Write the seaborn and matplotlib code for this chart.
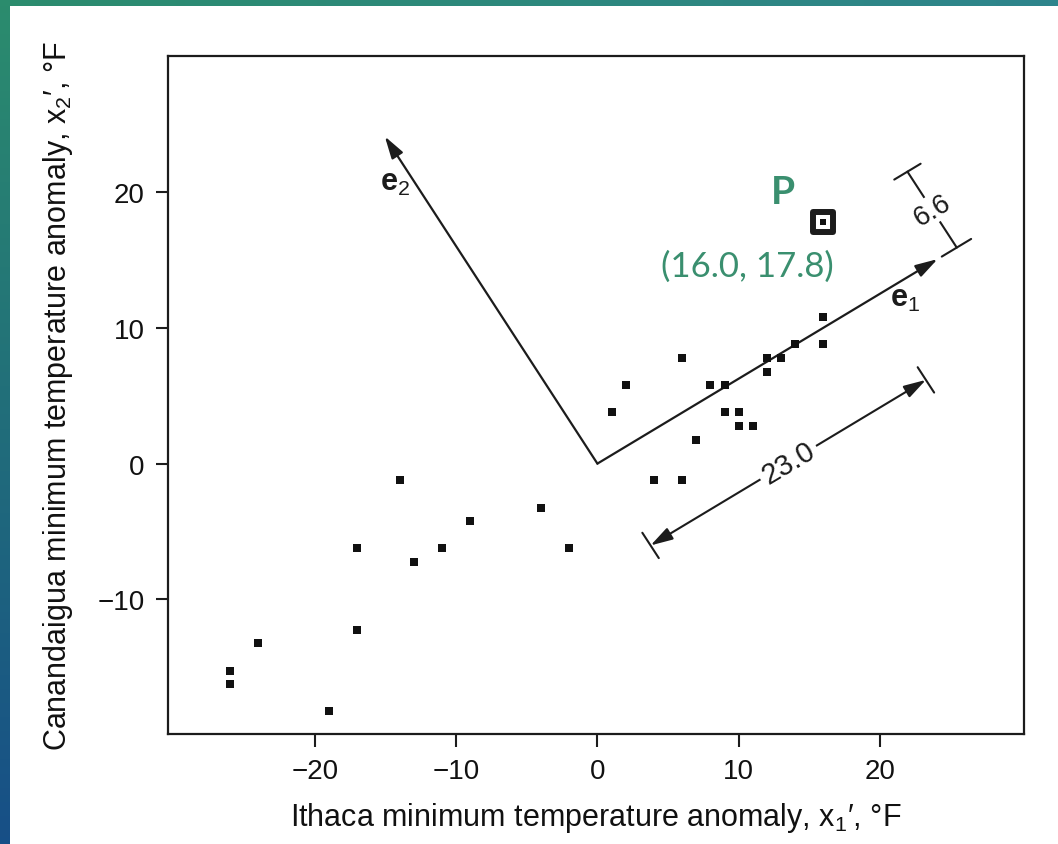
import numpy as np
import pandas as pd
import matplotlib
matplotlib.use("Agg")
import matplotlib.pyplot as plt
import seaborn as sns
from matplotlib.patches import Rectangle

# January 1987 daily minimum temperature anomalies (deg F)
ithaca_anom = [6, 12, 9, -14, -9, 1, 8, 9, 10, 14, 16, 12, 16, 2, 16, 11,
               -13, -11, 13, 4, 6, -4, 7, -19, -26, -26, -24, -17, -17, -2, 10]
canandaigua_anom = [7.77, 7.77, 5.77, -1.23, -4.23, 3.77, 5.77, 3.77, 3.77,
                    8.77, 8.77, 6.77, 10.77, 5.77, 17.77, 2.77, -7.23, -6.23,
                    7.77, -1.23, -1.23, -3.23, 1.77, -18.23, -16.23, -15.23,
                    -13.23, -12.23, -6.23, -6.23, 2.77]

# leading eigenvectors of the anomaly covariance matrix
e1 = [0.848, 0.530]
e2 = [-0.530, 0.848]

# day highlighted as point P
p_index = 14

x_ticks = [-20, -10, 0, 10, 20]
y_ticks = [-10, 0, 10, 20]
x_label = "Ithaca minimum temperature anomaly, x$_1$\u2032, \u00b0F"
y_label = "Canandaigua minimum temperature anomaly, x$_2$\u2032, \u00b0F"

sns.set_style("ticks")
plt.rcParams["font.family"] = ["Liberation Sans", "DejaVu Sans"]
plt.rcParams["mathtext.fontset"] = "custom"
plt.rcParams["mathtext.rm"] = "Liberation Sans"
plt.rcParams["mathtext.it"] = "Liberation Sans:italic"
plt.rcParams["mathtext.bf"] = "Liberation Sans:bold"
plt.rcParams["mathtext.default"] = "regular"

W, H = 1058, 845
fig = plt.figure(figsize=(W / 100, H / 100), dpi=100)

# slide backdrop: teal-to-blue gradient with a white panel
bg = fig.add_axes([0, 0, 1, 1], zorder=-5)
yy, xx = np.mgrid[0:1:120j, 0:1:120j]
TL = np.array([0.17, 0.55, 0.43])
TR = np.array([0.18, 0.52, 0.55])
BL = np.array([0.09, 0.31, 0.53])
BR = np.array([0.10, 0.34, 0.57])
img = (TL * ((1 - xx) * (1 - yy))[..., None] + TR * (xx * (1 - yy))[..., None]
       + BL * ((1 - xx) * yy)[..., None] + BR * (xx * yy)[..., None])
bg.imshow(img, extent=[0, 1, 0, 1], aspect="auto", origin="upper")
bg.add_patch(Rectangle((10 / W, 0), 1, 1 - 7 / H, transform=bg.transAxes,
                       facecolor="white", edgecolor="none"))
bg.set_xlim(0, 1)
bg.set_ylim(0, 1)
bg.axis("off")

ax = fig.add_axes([168 / W, 1 - 735 / H, (1024 - 168) / W, (735 - 57) / H])
ax.set_xlim(-30.4, 30.2)
ax.set_ylim(-19.9, 30.0)

ink = "#1c1c1c"
green = "#3a8f6f"

df = pd.DataFrame({"ithaca": ithaca_anom, "canandaigua": canandaigua_anom})
sns.scatterplot(data=df, x="ithaca", y="canandaigua", marker="s", s=30,
                color="#111111", linewidth=0, ax=ax, legend=False, zorder=3)

e1v = np.array(e1)
e2v = np.array(e2)


def frame(u1, u2):
    """Convert coordinates along (e1, e2) to data coordinates."""
    p = u1 * e1v + u2 * e2v
    return float(p[0]), float(p[1])


px, py = ithaca_anom[p_index], canandaigua_anom[p_index]
u1_p = px * e1v[0] + py * e1v[1]
u2_p = px * e2v[0] + py * e2v[1]

head = "-|>,head_length=0.75,head_width=0.22"
arr_len = 28.4

# eigenvector axes
for vec in ((arr_len, 0), (0, arr_len)):
    ax.annotate("", xy=frame(*vec), xytext=(0, 0),
                arrowprops=dict(arrowstyle=head, lw=1.6, color=ink,
                                mutation_scale=18, shrinkA=0, shrinkB=0),
                zorder=2)

# screen angle of e1 for rotated labels
fig.canvas.draw()
o = ax.transData.transform((0, 0))
t = ax.transData.transform(frame(1, 0))
ang = np.degrees(np.arctan2(t[1] - o[1], t[0] - o[0]))

# dimension along e1 (projection of P onto e1)
off = -7.1
ax.annotate("", xy=frame(u1_p, off), xytext=frame(0, off),
            arrowprops=dict(arrowstyle="<|-|>,head_length=0.75,head_width=0.22",
                            lw=1.5, color=ink, mutation_scale=18,
                            shrinkA=0, shrinkB=0), zorder=2)
for u in (0, u1_p):
    a, b = frame(u, off - 1.1), frame(u, off + 1.1)
    ax.plot([a[0], b[0]], [a[1], b[1]], color=ink, lw=1.5, zorder=2)
mx, my = frame(u1_p / 2, off)
ax.text(mx, my, f"{u1_p:.1f}", rotation=ang, rotation_mode="anchor",
        ha="center", va="center", fontsize=21, color=ink, zorder=4,
        bbox=dict(facecolor="white", edgecolor="none", pad=3))

# dimension along e2 (projection of P onto e2)
ud = 30.0
a, b = frame(ud, 0), frame(ud, u2_p)
ax.plot([a[0], b[0]], [a[1], b[1]], color=ink, lw=1.5, zorder=2)
for u2v, lo, hi in ((0, 28.75, 31.2), (u2_p, 28.9, 31.1)):
    a, b = frame(lo, u2v), frame(hi, u2v)
    ax.plot([a[0], b[0]], [a[1], b[1]], color=ink, lw=1.5, zorder=2)
mx, my = frame(ud, u2_p / 2)
ax.text(mx, my, f"{u2_p:.1f}", rotation=ang, rotation_mode="anchor",
        ha="center", va="center", fontsize=20, color=ink, zorder=4,
        bbox=dict(facecolor="white", edgecolor="none", pad=0.8))

# vector labels
ax.text(21.8, 12.2, r"$\mathbf{e}_1$", fontsize=22, color=ink,
        ha="center", va="center", zorder=4)
ax.text(-14.3, 20.7, r"$\mathbf{e}_2$", fontsize=22, color=ink,
        ha="center", va="center", zorder=4)

# point P
ax.scatter([px], [py], marker="s", s=205, facecolor="white", edgecolor=ink,
           linewidths=4.3, zorder=5)
ax.scatter([px], [py], marker="s", s=24, color="#111111", linewidths=0,
           zorder=6)
ax.text(13.1, 20.0, "P", fontsize=28, fontweight="bold", color=green,
        family=["Lato", "DejaVu Sans"], ha="center", va="center", zorder=6)
ax.text(10.6, 14.6, f"({px:.1f}, {py:.1f})", fontsize=25, color=green,
        family=["Lato", "DejaVu Sans"], ha="center", va="center", zorder=6)

# axes styling
ax.set_xticks(x_ticks)
ax.set_yticks(y_ticks)
ax.tick_params(axis="both", direction="out", length=9, width=1.5,
               color=ink, labelsize=20, labelcolor="#111111", pad=8)
for s in ax.spines.values():
    s.set_visible(True)
    s.set_linewidth(1.6)
    s.set_color(ink)
ax.set_xlabel(x_label, fontsize=22, color="#111111", labelpad=12)
ax.set_ylabel(y_label, fontsize=22, color="#111111", labelpad=16)
ax.set_facecolor("white")

fig.savefig("out.png", dpi=100)
